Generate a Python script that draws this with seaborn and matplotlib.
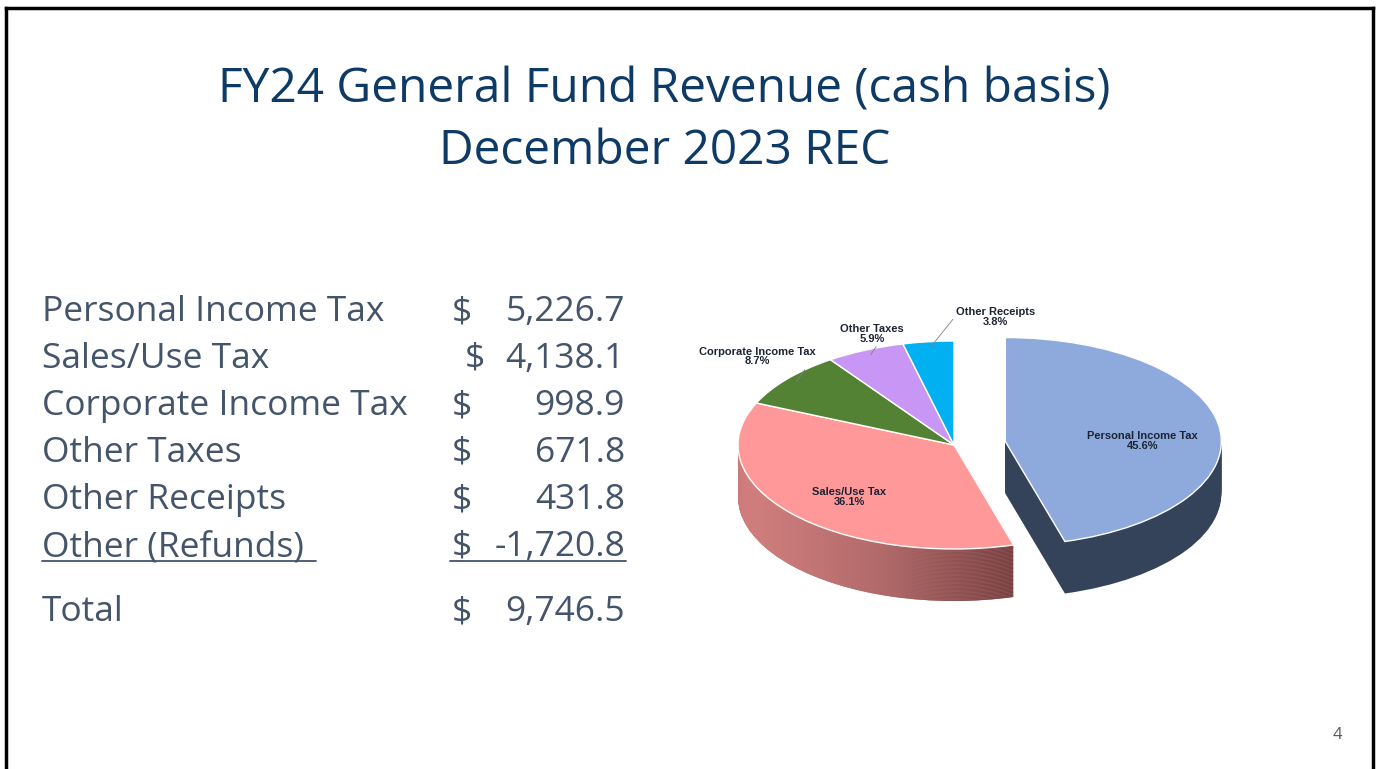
import numpy as np
import matplotlib
matplotlib.use("Agg")
import matplotlib.pyplot as plt
import seaborn as sns

# data
categories = ["Personal Income Tax", "Sales/Use Tax", "Corporate Income Tax",
              "Other Taxes", "Other Receipts"]
amounts = ["5,226.7", "4,138.1", "998.9", "671.8", "431.8"]
shares = [45.6, 36.1, 8.7, 5.9, 3.8]
refund_label = "Other (Refunds)"
refund_amount = "-1,720.8"
total_amount = "9,746.5"

top_colors = ["#8EA9DB", "#FF9999", "#548235", "#C896F5", "#00B0F0"]
side_colors = ["#34435A", "#B86A6A", "#3A5C25", "#9068B5", "#0080B0"]

sns.set_theme(style="white")
plt.rcParams["font.family"] = ["Open Sans", "DejaVu Sans"]

W, H = 1376, 769
fig = plt.figure(figsize=(W / 100, H / 100), dpi=100)
fig.patch.set_facecolor("white")

# background axes in pixel coords for the slide text
bg = fig.add_axes([0, 0, 1, 1])
bg.set_xlim(0, W)
bg.set_ylim(H, 0)
bg.axis("off")

# slide frame
bg.plot([6, 6], [H + 5, 8], color="black", lw=2.5, solid_capstyle="projecting")
bg.plot([6, 1373], [8, 8], color="black", lw=2.5, solid_capstyle="projecting")
bg.plot([1373, 1373], [8, H + 5], color="black", lw=2.5, solid_capstyle="projecting")

navy = "#0E3A66"
slate = "#44546A"
bg.text(664, 102, "FY24 General Fund Revenue (cash basis)", ha="center",
        va="baseline", fontsize=34.5, color=navy)
bg.text(665, 164, "December 2023 REC", ha="center", va="baseline",
        fontsize=34.5, color=navy)

# left table
rows = list(zip(categories, amounts)) + [(refund_label, refund_amount), ("Total", total_amount)]
baselines = [321, 368, 415, 462, 509, 556, 621]
fs = 25.5
for i, ((lab, val), yb) in enumerate(zip(rows, baselines)):
    bg.text(42, yb, lab, ha="left", va="baseline", fontsize=fs, color=slate)
    dx = 465 if i == 1 else 452
    bg.text(dx, yb, "$", ha="left", va="baseline", fontsize=fs, color=slate)
    bg.text(625, yb, val, ha="right", va="baseline", fontsize=fs, color=slate)
# underlines for the refunds row
bg.plot([42, 316], [561, 561], color=slate, lw=1.3)
bg.plot([450, 626], [561, 561], color=slate, lw=1.3)

bg.text(1337, 739, "4", ha="center", va="baseline", fontsize=12, color="#595959")

# pie axes: 1 data unit = sx px horizontally, sy px vertically
cx, cy = 954, 445
ax_l, ax_r = -1.4, 1.4
ax_b, ax_t = -1.9, 1.4
sx, sy = 216, 104
ax = fig.add_axes([(cx + ax_l * sx) / W, (H - cy + ax_b * sy) / H,
                   (ax_r - ax_l) * sx / W, (ax_t - ax_b) * sy / H])
ax.patch.set_alpha(0)

explode = [0.24, 0, 0, 0, 0]
depth = 0.5
layers = np.linspace(depth, 0, 40)

grad = np.linspace(0, 1, 256).reshape(1, -1)
sales_cmap = matplotlib.colors.LinearSegmentedColormap.from_list(
    "sales_side", ["#DA8585", "#B06A6A", "#6E3C3C"])

for k, d in enumerate(layers):
    z = 1 + k * 0.02
    wedges, _ = ax.pie(shares, explode=explode, colors=side_colors,
                       startangle=90, counterclock=False, center=(0, -d),
                       radius=1, wedgeprops=dict(linewidth=0))
    for w in wedges:
        w.set_zorder(z)
    im = ax.imshow(grad, cmap=sales_cmap, extent=(-1.0, 0.35, -1.6, 0.2),
                   aspect="auto", zorder=z + 0.01)
    im.set_clip_path(wedges[1])

top, _ = ax.pie(shares, explode=explode, colors=top_colors,
                startangle=90, counterclock=False, radius=1,
                wedgeprops=dict(linewidth=1, edgecolor="white"))
for w in top:
    w.set_zorder(5)

ax.set_aspect("auto")
ax.set_xlim(ax_l, ax_r)
ax.set_ylim(ax_b, ax_t)
ax.axis("off")

# labels
pct = [f"{s:.1f}%" for s in shares]
lab_font = dict(family=["Liberation Sans", "DejaVu Sans"], fontweight="bold",
                fontsize=8, color="#1c2433", ha="center", va="center",
                linespacing=0.95, zorder=10)
cum = np.cumsum([0] + shares[:-1])
mids = [90 - 3.6 * (c + s / 2) for c, s in zip(cum, shares)]
for i in (0, 1):
    th = np.deg2rad(mids[i])
    r = 0.64
    ex = explode[i]
    ax.text((r + ex) * np.cos(th), (r + ex) * np.sin(th) - 0.08,
            f"{categories[i]}\n{pct[i]}", **lab_font)

outside = {2: ((-0.912, 0.85), (1.0, 0.6)),
           3: ((-0.38, 1.07), (0.6, 0.0)),
           4: ((0.194, 1.23), (0.0, 0.6))}
for i, (txy, rel) in outside.items():
    th = np.deg2rad(mids[i])
    ax.annotate(f"{categories[i]}\n{pct[i]}",
                xy=(0.95 * np.cos(th), 0.95 * np.sin(th)), xytext=txy,
                textcoords="data", annotation_clip=False,
                arrowprops=dict(arrowstyle="-", color="#808080", lw=0.6,
                                relpos=rel, shrinkA=0, shrinkB=0),
                **lab_font)

fig.savefig("out.png", dpi=100)
